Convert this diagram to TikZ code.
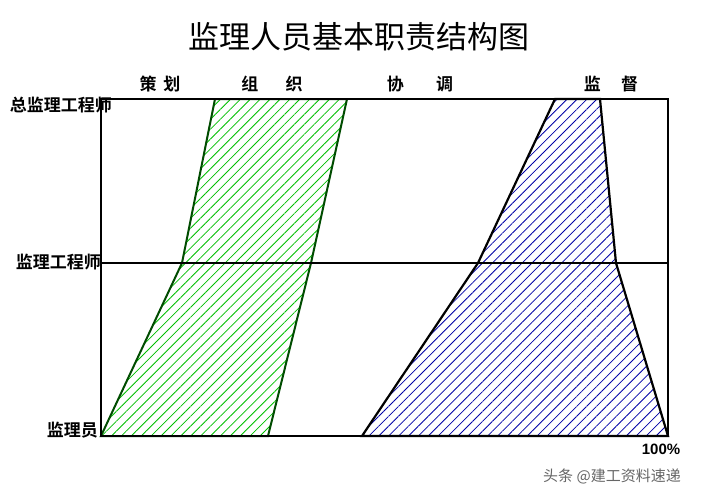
\documentclass[tikz,border=0pt]{standalone}
\usepackage{fontspec}
\newfontfamily\cjk{Noto Sans CJK SC}[BoldFont={Noto Sans CJK SC Bold}]
\usetikzlibrary{patterns.meta}
\begin{document}
\begin{tikzpicture}[x=1pt,y=-1pt,
  lbl/.style={font=\cjk\bfseries\fontsize{17}{17}\selectfont, inner sep=0pt},
  frame/.style={line width=2.2pt, black},
  greenarea/.style={pattern={Lines[angle=45,distance=7pt,line width=0.8pt]}, pattern color=green!75!black, draw=green!30!black, line width=2pt},
  bluearea/.style={pattern={Lines[angle=45,distance=7pt,line width=0.8pt]}, pattern color=blue!65!black, draw=black, line width=2.2pt}]
\useasboundingbox (0,0) rectangle (707,498);
\fill[white] (0,0) rectangle (707,498);
% areas
\coordinate (g1) at (215,99); \coordinate (g2) at (347,99);
\coordinate (g3) at (311,263); \coordinate (g4) at (268,436);
\coordinate (g5) at (101,436); \coordinate (g6) at (182,263);
\path[greenarea] (g1) -- (g2) -- (g3) -- (g4) -- (g5) -- (g6) -- cycle;
\coordinate (b1) at (555,99); \coordinate (b2) at (600,99);
\coordinate (b3) at (616,263); \coordinate (b4) at (668,436);
\coordinate (b5) at (362,436); \coordinate (b6) at (478,263);
\path[bluearea] (b1) -- (b2) -- (b3) -- (b4) -- (b5) -- (b6) -- cycle;
% frame
\coordinate (tl) at (101,99); \coordinate (br) at (668,436);
\coordinate (ml) at (101,263); \coordinate (mr) at (668,263);
\draw[frame] (tl) rectangle (br);
\draw[frame] (ml) -- (mr);
% title
\node[font=\cjk\fontsize{31}{31}\selectfont, inner sep=0pt] (title) at (359,37) {监理人员基本职责结构图};
% column labels
\node[lbl] (c1) at (160,84) {策\hspace{0.4em}划};
\node[lbl] (c2) at (272,84) {组\hspace{1.6em}织};
\node[lbl] (c3) at (420,84) {协\hspace{1.9em}调};
\node[lbl] (c4) at (611,84) {监\hspace{1.2em}督};
% row labels
\node[lbl, anchor=east] (r1) at (112,105) {总监理工程师};
\node[lbl, anchor=east] (r2) at (101,262) {监理工程师};
\node[lbl, anchor=east] (r3) at (98,430) {监理员};
\node[font=\fontspec{Liberation Sans}\bfseries\fontsize{15}{15}\selectfont, inner sep=0pt] (pct) at (661,449) {100\%};
\node[font=\cjk\fontsize{15}{15}\selectfont, text=black!60, inner sep=0pt] (wm) at (612,476) {头条 @建工资料速递};
\end{tikzpicture}
\end{document}
